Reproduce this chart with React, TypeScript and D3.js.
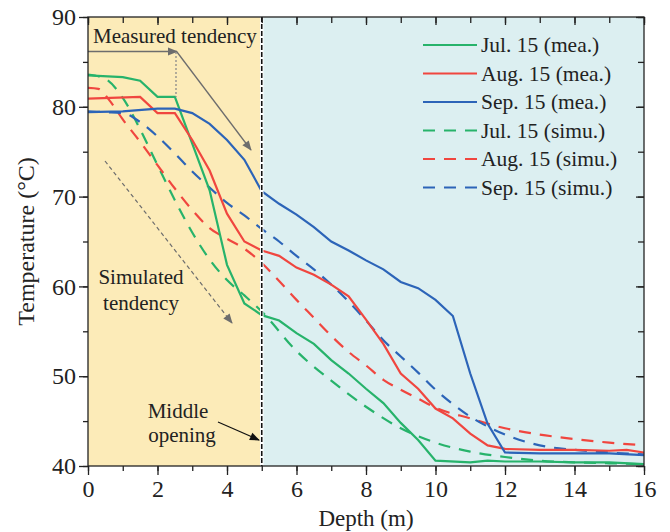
import React, { useRef, useEffect } from "react";
import * as d3 from "d3";

// measured profiles
const julMeaDepth = [0, 1, 1.5, 2, 2.5, 3.5, 4, 4.5, 5, 5.5, 6, 6.5, 7, 7.5, 8, 8.5, 9, 9.5, 10, 11, 11.5, 12, 13, 14, 15, 16];
const julMeaTemp = [83.5, 83.3, 82.9, 81.1, 81.1, 70.7, 62.4, 58.1, 56.8, 56.2, 54.8, 53.6, 51.8, 50.3, 48.6, 47.0, 44.8, 42.9, 40.6, 40.4, 40.6, 40.5, 40.5, 40.4, 40.4, 40.2];

const augMeaDepth = [0, 1.5, 2, 2.5, 3, 3.5, 4, 4.5, 5, 5.5, 6, 6.5, 7, 7.5, 8, 8.5, 9, 9.5, 10, 10.5, 11, 11.5, 12, 13, 14, 15, 15.5, 16];
const augMeaTemp = [80.9, 81.1, 79.3, 79.3, 76.3, 72.9, 68.1, 65.0, 64.0, 63.4, 62.1, 61.3, 60.2, 58.9, 56.3, 53.6, 50.3, 48.6, 46.4, 45.3, 43.6, 42.3, 41.9, 41.8, 41.8, 41.7, 41.8, 41.5];

const sepMeaDepth = [0, 1, 2, 2.5, 3, 3.5, 4, 4.5, 5, 5.5, 6, 6.5, 7, 7.5, 8, 8.5, 9, 9.5, 10, 10.5, 11, 11.5, 12, 13, 14, 15, 16];
const sepMeaTemp = [79.4, 79.5, 79.8, 79.8, 79.3, 78.1, 76.3, 74.1, 70.6, 69.2, 68.0, 66.6, 65.0, 64.0, 62.9, 61.9, 60.5, 59.8, 58.5, 56.7, 50.3, 44.7, 41.5, 41.4, 41.4, 41.4, 41.2];

// simulated profiles
const julSimuDepth = [0, 0.5, 1, 1.5, 2, 2.5, 3, 3.5, 4, 4.5, 5, 6, 7, 8, 9, 10, 11, 12, 13, 14, 15, 16];
const julSimuTemp = [83.6, 83.1, 81.0, 77.5, 73.5, 69.6, 66.0, 63.0, 60.7, 59.0, 57.2, 52.8, 49.5, 46.6, 44.2, 42.6, 41.6, 41.0, 40.6, 40.4, 40.3, 40.2];

const augSimuDepth = [0, 0.3, 0.6, 1, 1.5, 2, 2.5, 3, 3.5, 4, 4.5, 5, 5.5, 6, 6.5, 7, 7.5, 8, 8.5, 9, 9.5, 10, 11, 12, 13, 14, 15, 16];
const augSimuTemp = [82.1, 82.0, 80.8, 78.6, 76.1, 73.5, 70.9, 68.5, 66.5, 65.3, 64.2, 62.6, 60.6, 58.5, 56.5, 54.5, 52.7, 51.2, 49.6, 48.5, 47.5, 46.5, 45.3, 44.2, 43.5, 43.0, 42.6, 42.3];

const sepSimuDepth = [0, 0.5, 1, 1.5, 2, 2.5, 3, 3.5, 4, 4.5, 5, 5.5, 6, 6.5, 7, 7.5, 8, 8.5, 9, 9.5, 10, 10.5, 11, 11.5, 12, 13, 14, 15, 16];
const sepSimuTemp = [79.5, 79.4, 79.3, 78.3, 76.7, 74.8, 72.8, 71.0, 69.3, 67.9, 66.4, 65.0, 63.4, 61.9, 60.2, 58.3, 56.2, 54.0, 52.2, 50.4, 48.5, 46.9, 45.5, 44.4, 43.5, 42.3, 41.8, 41.5, 41.3];

const seriesNames = ["Jul. 15 (mea.)", "Aug. 15 (mea.)", "Sep. 15 (mea.)", "Jul. 15 (simu.)", "Aug. 15 (simu.)", "Sep. 15 (simu.)"];
const xTicks = [0, 2, 4, 6, 8, 10, 12, 14, 16];
const yTicks = [40, 50, 60, 70, 80, 90];
const openingDepth = 5;

const GREEN = "#27b36b";
const RED = "#f0463f";
const BLUE = "#2c64b8";
const FONT = "Liberation Serif, serif";

const W = 670;
const H = 532;
const m = { left: 88, right: 26, top: 17, bottom: 66 };

const App = () => {
  const svgRef = useRef<SVGSVGElement>(null);

  useEffect(() => {
    const svg = d3.select(svgRef.current);
    svg.selectAll("*").remove();

    const x = d3.scaleLinear().domain([0, 16]).range([m.left, W - m.right]);
    const y = d3.scaleLinear().domain([40, 90]).range([H - m.bottom, m.top]);
    const x0 = x(0), x1 = x(16), y0 = y(40), y1 = y(90);

    const defs = svg.append("defs");
    defs.append("clipPath").attr("id", "plot")
      .append("rect").attr("x", x0).attr("y", y1).attr("width", x1 - x0).attr("height", y0 - y1);
    const marker = (id, color) =>
      defs.append("marker").attr("id", id).attr("viewBox", "0 0 10 10")
        .attr("refX", 9).attr("refY", 5)
        .attr("markerUnits", "userSpaceOnUse").attr("orient", "auto")
        .attr("markerWidth", 14).attr("markerHeight", 10)
        .append("path").attr("d", "M0,1 L10,5 L0,9 Z").attr("fill", color);
    marker("arrGray", "#6d6d6d");
    marker("arrBlack", "#111");

    // background zones
    svg.append("rect").attr("x", x0).attr("y", y1).attr("width", x(openingDepth) - x0).attr("height", y0 - y1).attr("fill", "#fcebb8");
    svg.append("rect").attr("x", x(openingDepth)).attr("y", y1).attr("width", x1 - x(openingDepth)).attr("height", y0 - y1).attr("fill", "#dceff1");

    const g = svg.append("g").attr("clip-path", "url(#plot)");

    const lineMea = d3.line<[number, number]>().x((d) => x(d[0])).y((d) => y(d[1]));
    const lineSimu = d3.line<[number, number]>().x((d) => x(d[0])).y((d) => y(d[1])).curve(d3.curveMonotoneX);

    const series = [
      { depth: julSimuDepth, temp: julSimuTemp, color: GREEN, dash: true },
      { depth: augSimuDepth, temp: augSimuTemp, color: RED, dash: true },
      { depth: sepSimuDepth, temp: sepSimuTemp, color: BLUE, dash: true },
      { depth: julMeaDepth, temp: julMeaTemp, color: GREEN, dash: false },
      { depth: augMeaDepth, temp: augMeaTemp, color: RED, dash: false },
      { depth: sepMeaDepth, temp: sepMeaTemp, color: BLUE, dash: false },
    ];
    series.forEach((s) => {
      const pts = s.depth.map((d, i) => [d, s.temp[i]] as [number, number]);
      g.append("path")
        .attr("d", (s.dash ? lineSimu : lineMea)(pts))
        .attr("fill", "none")
        .attr("stroke", s.color)
        .attr("stroke-width", 2.2)
        .attr("stroke-dasharray", s.dash ? "12,9" : null);
    });

    // middle opening line
    svg.append("line").attr("x1", x(openingDepth)).attr("x2", x(openingDepth)).attr("y1", y1).attr("y2", y0)
      .attr("stroke", "#fff").attr("stroke-width", 3.5);
    svg.append("line").attr("x1", x(openingDepth)).attr("x2", x(openingDepth)).attr("y1", y1).attr("y2", y0)
      .attr("stroke", "#111").attr("stroke-width", 1.6).attr("stroke-dasharray", "5,2");

    // annotations
    const ann = svg.append("g").attr("font-family", FONT).attr("font-size", 21).attr("fill", "#222");
    ann.append("text").attr("x", 93).attr("y", 43).text("Measured tendency");
    ann.append("line").attr("x1", x0).attr("y1", 51.5).attr("x2", 177).attr("y2", 51.5)
      .attr("stroke", "#6d6d6d").attr("stroke-width", 1.3).attr("marker-end", "url(#arrGray)");
    ann.append("line").attr("x1", 176).attr("y1", 52).attr("x2", 176).attr("y2", 97)
      .attr("stroke", "#8a8a8a").attr("stroke-width", 1.3).attr("stroke-dasharray", "2,2");
    ann.append("line").attr("x1", 177).attr("y1", 52).attr("x2", 251).attr("y2", 150)
      .attr("stroke", "#6d6d6d").attr("stroke-width", 1.3).attr("marker-end", "url(#arrGray)");
    ann.append("line").attr("x1", 105).attr("y1", 161).attr("x2", 232).attr("y2", 323)
      .attr("stroke", "#6d6d6d").attr("stroke-width", 1.2).attr("stroke-dasharray", "4,3").attr("marker-end", "url(#arrGray)");
    ann.append("text").attr("x", 141).attr("y", 284).attr("text-anchor", "middle").text("Simulated");
    ann.append("text").attr("x", 141).attr("y", 310).attr("text-anchor", "middle").text("tendency");
    ann.append("text").attr("x", 178).attr("y", 418).attr("text-anchor", "middle").text("Middle");
    ann.append("text").attr("x", 182).attr("y", 442).attr("text-anchor", "middle").text("opening");
    ann.append("line").attr("x1", 218).attr("y1", 422).attr("x2", 259).attr("y2", 440)
      .attr("stroke", "#111").attr("stroke-width", 1.2).attr("marker-end", "url(#arrBlack)");

    // legend
    const legend = svg.append("g").attr("font-family", FONT).attr("font-size", 21.5).attr("fill", "#222");
    const legendColors = [GREEN, RED, BLUE, GREEN, RED, BLUE];
    seriesNames.forEach((name, i) => {
      const ly = 45 + i * 28.5;
      legend.append("line").attr("x1", 423).attr("x2", 477).attr("y1", ly).attr("y2", ly)
        .attr("stroke", legendColors[i]).attr("stroke-width", 2.2)
        .attr("stroke-dasharray", i >= 3 ? "12,9" : null);
      legend.append("text").attr("x", 481).attr("y", ly + 7).text(name);
    });

    // axes
    const styleAxis = (sel) => {
      sel.select(".domain").remove();
      sel.selectAll("line").attr("stroke", "#222").attr("stroke-width", 1.3);
      sel.selectAll("text").attr("font-family", FONT).attr("font-size", 24).attr("fill", "#222");
    };
    svg.append("g").attr("transform", `translate(0,${y0})`)
      .call(d3.axisBottom(x).tickValues(d3.range(0, 17, 1)).tickSize(5).tickFormat(() => ""))
      .call(styleAxis);
    svg.append("g").attr("transform", `translate(0,${y0})`)
      .call(d3.axisBottom(x).tickValues(xTicks).tickSize(9).tickPadding(5).tickFormat(d3.format("d")))
      .call(styleAxis);
    svg.append("g").attr("transform", `translate(${x0},0)`)
      .call(d3.axisLeft(y).tickValues(d3.range(40, 91, 5)).tickSize(5).tickFormat(() => ""))
      .call(styleAxis);
    svg.append("g").attr("transform", `translate(${x0},0)`)
      .call(d3.axisLeft(y).tickValues(yTicks).tickSize(9).tickPadding(3).tickFormat(d3.format("d")))
      .call(styleAxis);
    // mirrored inner ticks
    svg.append("g").attr("transform", `translate(0,${y1})`)
      .call(d3.axisBottom(x).tickValues(d3.range(0, 17, 1)).tickSize(6).tickFormat(() => ""))
      .call(styleAxis);
    svg.append("g").attr("transform", `translate(0,${y1})`)
      .call(d3.axisBottom(x).tickValues(xTicks).tickSize(8).tickFormat(() => ""))
      .call(styleAxis);
    svg.append("g").attr("transform", `translate(${x1},0)`)
      .call(d3.axisLeft(y).tickValues(d3.range(40, 91, 5)).tickSize(6).tickFormat(() => ""))
      .call(styleAxis);
    svg.append("g").attr("transform", `translate(${x1},0)`)
      .call(d3.axisLeft(y).tickValues(yTicks).tickSize(8).tickFormat(() => ""))
      .call(styleAxis);

    // frame
    svg.append("rect").attr("x", x0).attr("y", y1).attr("width", x1 - x0).attr("height", y0 - y1)
      .attr("fill", "none").attr("stroke", "#222").attr("stroke-width", 1.3);

    // axis titles
    svg.append("text").attr("x", (x0 + x1) / 2).attr("y", 526).attr("text-anchor", "middle")
      .attr("font-family", FONT).attr("font-size", 23).attr("fill", "#222").text("Depth (m)");
    svg.append("text").attr("transform", `translate(34,${(y0 + y1) / 2}) rotate(-90)`).attr("text-anchor", "middle")
      .attr("font-family", FONT).attr("font-size", 24).attr("fill", "#222").text("Temperature (°C)");
  }, []);

  return (
    <svg ref={svgRef} width={W} height={H} style={{ position: "absolute", left: 0, top: 0, background: "#fff" }} />
  );
};

export default App;
